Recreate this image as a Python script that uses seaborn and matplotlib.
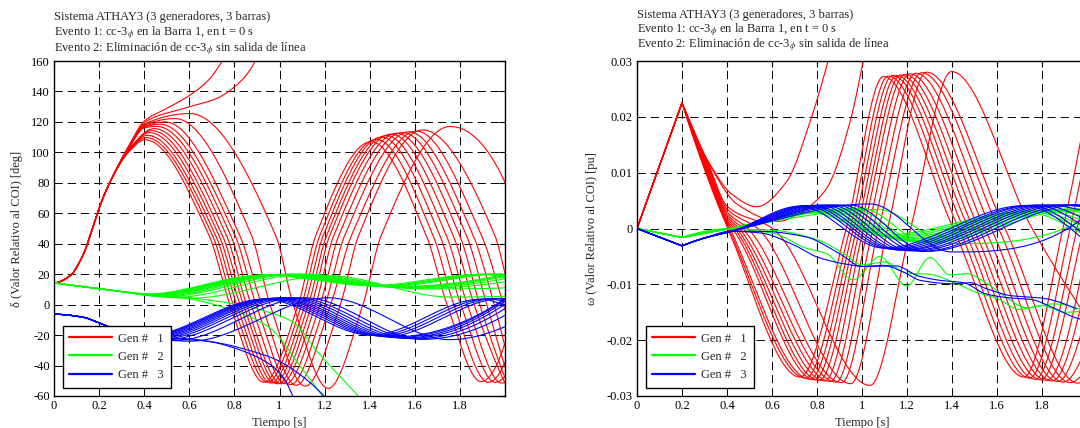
import numpy as np
import pandas as pd
import matplotlib
matplotlib.use("Agg")
import matplotlib.pyplot as plt
import seaborn as sns
from matplotlib.lines import Line2D

nan = np.nan

# ---------------------------------------------------------------------------
# Digitised swing-curve knots (11 stable cases + 2 unstable cases)
# ---------------------------------------------------------------------------
# Gen 1 rotor angle (deg), common fault-on rise
RISE_T = [0.0, 0.07, 0.13, 0.174, 0.204, 0.248]
RISE_D = [14.3, 18.8, 33.0, 51.8, 65.0, 80.4]

d1_033 = [100.0, 100.3, 100.6, 101.0, 101.3, 101.6, 102.0, 102.3, 102.6, 103.0, 103.4]
d1_040 = [nan, nan, nan, nan, nan, nan, 116.0, 116.5, 117.0, 117.8, 118.5]
tp1 = [0.404, 0.408, 0.414, 0.423, 0.433, 0.443, 0.455, 0.470, 0.493, 0.537, 0.603]
v1 = [108.3, 109.7, 111.2, 113.0, 114.3, 115.6, 117.1, 118.5, 120.0, 122.2, 125.5]
c45d = [0.689, 0.704, 0.718, 0.733, 0.748, 0.766, 0.785, 0.804, 0.825, 0.877, 0.984]
c0d = [0.780, 0.795, 0.810, 0.825, 0.840, 0.854, 0.874, 0.896, 0.921, 0.958, 1.061]
tm1 = [0.930, 0.947, 0.962, 0.977, 0.992, 1.007, 1.027, 1.049, 1.074, 1.114, 1.216]
m1 = [-51.0, -51.0, -51.5, -51.5, -52.0, -52.0, -52.0, -52.5, -53.0, -53.5, -55.0]
c0a = [1.083, 1.098, 1.113, 1.128, 1.143, 1.160, 1.180, 1.202, 1.227, 1.270, 1.370]
c45a = [1.160, 1.178, 1.193, 1.208, 1.222, 1.240, 1.262, 1.288, 1.318, 1.350, 1.450]
tp2 = [1.406, 1.430, 1.452, 1.474, 1.496, 1.520, 1.546, 1.574, 1.607, 1.635, 1.756]
v2 = [107.0, 108.5, 110.0, 111.0, 112.0, 112.5, 113.0, 113.5, 114.0, 114.7, 117.0]
c45d2 = [1.652, 1.682, 1.712, 1.741, 1.771, 1.800, 1.830, 1.860, 1.897, 1.956, nan]
c0d2 = [1.743, 1.773, 1.804, 1.833, 1.863, 1.888, 1.919, 1.952, 1.993, nan, nan]
tm2 = [1.893, 1.925, 1.956, 1.985, nan, nan, nan, nan, nan, nan, nan]
m2 = [-50.5, -51.0, -51.0, -51.5, nan, nan, nan, nan, nan, nan, nan]
d1_end = [-25.0, -38.0, -47.0, -51.0, -51.5, -48.0, -41.0, -27.5, -3.5, 20.5, 80.3]

# Gen 1 unstable cases
u1_t = [0.33, 0.40, 0.499, 0.603, 0.692, 0.748, 0.80]
u1_d = [103.8, 120.5, 128.8, 137.6, 148.5, 160.5, 172.0]
u2_t = [0.33, 0.41, 0.573, 0.721, 0.81, 0.869, 0.906, 0.95]
u2_d = [103.6, 120.5, 128.8, 135.4, 144.2, 154.0, 164.0, 176.0]

# Gen 2 rotor angle (deg)
G_T = [0.0, 0.1, 0.2, 0.3]
G_D = [14.3, 12.3, 10.5, 8.6]
g_min1 = [6.8, 6.7, 6.6, 6.4, 6.2, 6.0, 5.8, 5.5, 5.2, 4.8, 4.2]
g_max1 = [19.4, 19.5, 19.6, 19.7, 19.8, 19.8, 19.9, 20.0, 20.0, 20.0, 19.0]
g_min2 = [12.5, 12.3, 12.1, 11.9, 11.7, 11.5, 11.3, 11.0, 10.7, 10.3, 5.0]
g_max2 = [20.0, 20.0, 20.1, 20.1, nan, nan, nan, nan, nan, nan, nan]
g_end = [17.5, 18.8, 19.6, 20.0, 19.9, 19.4, 18.5, 17.0, 15.0, 11.0, 5.5]
ga_t = [0.42, 0.55, 0.77, 0.955, 1.09, 1.2, 1.25]
ga_d = [6.9, 5.0, -2.5, -15.0, -40.0, -62.0, -72.0]
gb_t = [0.42, 0.6, 0.8, 0.93, 1.06, 1.166, 1.273, 1.349, 1.4]
gb_d = [6.9, 4.5, 0.5, -4.0, -11.5, -30.5, -48.0, -60.0, -69.0]

# Gen 3 rotor angle (deg)
B_T = [0.0, 0.13, 0.2, 0.28]
B_D = [-6.3, -8.3, -12.0, -16.5]
b_min1 = [-20.5, -20.8, -21.0, -21.3, -21.6, -22.0, -22.4, -22.8, -23.2, -23.6, -24.0]
b_max1 = [3.6, 3.8, 4.0, 4.2, 4.3, 4.4, 4.5, 4.5, 4.5, 4.5, 4.5]
b_min2 = [-20.0, -20.3, -20.6, -21.0, -21.3, -21.6, -22.0, -22.2, -22.5, -22.8, -23.0]
b_max2 = [3.6, 3.8, 4.0, 4.0, nan, nan, nan, nan, nan, nan, nan]
b_end = [-0.5, 2.0, 3.3, 3.9, 3.9, 3.4, 2.2, 0.3, -2.6, -7.0, -14.5]
ba_t = [0.4, 0.5, 0.6, 0.7, 0.82, 0.95, 1.02, 1.065, 1.09]
ba_d = [-20.5, -21.8, -22.5, -24.5, -29.5, -38.5, -48.5, -62.0, -70.0]
bb_t = [0.4, 0.5, 0.678, 0.91, 0.99, 1.105, 1.218, 1.26]
bb_d = [-20.6, -22.0, -24.0, -32.0, -36.5, -47.5, -63.0, -70.0]

# Speed deviation (pu)
W_FAULT_T = [0.0, 0.2]
w1_fault = [0.0, 0.0225]
w2_fault = [0.0, -0.0016]
w3_fault = [0.0, -0.0031]

w1_032 = [0.0084, 0.0087, 0.0090, 0.0093, 0.0096, 0.0099, 0.0102, 0.0104, 0.0107, 0.0110, 0.0113]
w1_040 = [nan, nan, nan, 0.0010, 0.0014, 0.0018, 0.0022, 0.0026, 0.0030, 0.0035, 0.0040]
wmin1_t = [0.724, 0.750, 0.770, 0.790, 0.810, 0.835, 0.860, 0.885, 0.910, 0.950, 1.036]
wmin1 = [-0.0266, -0.0268, -0.0270, -0.0271, -0.0272, -0.0273, -0.0274, -0.0275, -0.0276, -0.0278, -0.0281]
wmax1_t = [1.095, 1.117, 1.136, 1.154, 1.172, 1.191, 1.213, 1.240, 1.265, 1.287, 1.398]
wmax1 = [0.0272, 0.0273, 0.0274, 0.0274, 0.0275, 0.0276, 0.0277, 0.0278, 0.0279, 0.0280, 0.0281]
wmin2_t = [1.720, 1.745, 1.770, 1.795, 1.820, 1.845, 1.870, 1.895, 1.925, 1.960, nan]
wmin2 = [-0.0266, -0.0268, -0.0270, -0.0271, -0.0272, -0.0273, -0.0274, -0.0275, -0.0276, -0.0277, nan]
w1_end = [0.022, 0.015, 0.0085, 0.0025, -0.003, -0.009, -0.015, -0.021, -0.025, -0.0265, -0.016]

wu1_t = [0.2, 0.32, 0.42, 0.532, 0.665, 0.769, 0.85, 0.9]
wu1 = [0.0225, 0.0118, 0.0062, 0.0039, 0.0084, 0.0191, 0.0301, 0.038]
wu2_t = [0.2, 0.32, 0.45, 0.63, 0.75, 0.843, 0.947, 1.006, 1.04]
wu2 = [0.0225, 0.0116, 0.0042, 0.0013, 0.0035, 0.0072, 0.0191, 0.0301, 0.037]

g_pk1_t = [0.78, 0.80, 0.82, 0.84, 0.86, 0.88, 0.90, 0.93, 0.96, 1.00, 1.07]
gw1 = [0.0028, 0.0029, 0.0030, 0.0031, 0.0032, 0.0033, 0.0034, 0.0035, 0.0035, 0.0036, 0.0034]
gw2 = [-0.0012, -0.0014, -0.0016, -0.0018, -0.0020, -0.0022, -0.0023, -0.0024, -0.0025, -0.0026, -0.0027]
gw3 = [0.0030, 0.0031, 0.0032, 0.0032, 0.0033, 0.0033, 0.0034, 0.0034, 0.0035, 0.0035, nan]
gw_end = [-0.0015, -0.0008, 0.0, 0.0012, 0.0020, 0.0027, 0.0030, 0.0033, 0.0034, 0.0034, 0.0020]

bw1 = [0.0040, 0.0041, 0.0041, 0.0041, 0.0042, 0.0042, 0.0042, 0.0042, 0.0042, 0.0042, 0.0044]
bw2 = [-0.0035, -0.0036, -0.0037, -0.0038, -0.0039, -0.0039, -0.0040, -0.0040, -0.0041, -0.0041, -0.0042]
bw3 = [0.0041, 0.0041, 0.0042, 0.0042, 0.0042, 0.0042, 0.0042, 0.0042, 0.0042, 0.0042, nan]
bw_end = [-0.0025, -0.0015, 0.0, 0.0015, 0.0030, 0.0038, 0.0041, 0.0042, 0.0041, 0.0039, 0.0024]

wga_t = [0.2, 0.4, 0.6, 0.75, 0.843, 0.961, 1.08, 1.198, 1.302, 1.391, 1.465, 1.554, 1.628, 1.732, 1.85, 2.0]
wga = [-0.0016, -0.0001, -0.0008, -0.0035, -0.0045, -0.0092, -0.0050, -0.0103, -0.0052, -0.0083, -0.0081,
       -0.0098, -0.0120, -0.0142, -0.0135, -0.0150]
wgb_t = [0.2, 0.4, 0.6, 0.8, 0.92, 1.0, 1.1, 1.2, 1.3, 1.4, 1.5, 1.6, 1.7, 1.8, 1.9, 2.0]
wgb = [-0.0016, -0.0001, -0.0003, -0.0020, -0.0045, -0.0065, -0.0060, -0.0080, -0.0082, -0.0095, -0.0113,
       -0.0125, -0.0145, -0.0138, -0.0150, -0.0145]
wba_t = [0.2, 0.3, 0.42, 0.55, 0.7, 0.8, 0.917, 1.006, 1.095, 1.184, 1.26, 1.406, 1.48, 1.554, 1.658, 1.806, 1.954]
wba = [-0.0031, -0.0017, -0.0005, -0.0008, -0.0030, -0.0051, -0.0063, -0.0068, -0.0066, -0.0078, -0.0093,
       -0.0099, -0.0097, -0.0108, -0.0120, -0.0125, -0.0144]
wbb_t = [0.2, 0.3, 0.42, 0.55, 0.75, 0.9, 1.0, 1.15, 1.25, 1.35, 1.45, 1.55, 1.65, 1.75, 1.85, 1.95, 2.0]
wbb = [-0.0031, -0.0017, -0.0005, -0.0005, -0.0015, -0.0045, -0.0068, -0.0067, -0.0085, -0.0093, -0.0097,
       -0.0117, -0.0124, -0.0127, -0.0142, -0.0160, -0.0165]

N_STABLE = len(tp1)


# ---------------------------------------------------------------------------
# Shape-preserving cubic trace through the knots
# ---------------------------------------------------------------------------
def _end_slope(h0, h1, d0, d1):
    m = ((2 * h0 + h1) * d0 - h0 * d1) / (h0 + h1)
    if np.sign(m) != np.sign(d0):
        m = 0.0
    elif np.sign(d0) != np.sign(d1) and abs(m) > abs(3 * d0):
        m = 3 * d0
    return m


def smooth(knots):
    k = [(t, v) for t, v in knots if not (np.isnan(t) or np.isnan(v))]
    x = np.array([p[0] for p in k], float)
    y = np.array([p[1] for p in k], float)
    h = np.diff(x)
    d = np.diff(y) / h
    m = np.zeros_like(y)
    if len(x) == 2:
        m[:] = d[0]
    else:
        for i in range(1, len(x) - 1):
            if d[i - 1] * d[i] > 0:
                w1 = 2 * h[i] + h[i - 1]
                w2 = h[i] + 2 * h[i - 1]
                m[i] = (w1 + w2) / (w1 / d[i - 1] + w2 / d[i])
        m[0] = _end_slope(h[0], h[1], d[0], d[1])
        m[-1] = _end_slope(h[-1], h[-2], d[-1], d[-2])
    xs, ys = [], []
    for i in range(len(h)):
        n = max(6, int(h[i] / 0.003))
        s = np.linspace(0.0, 1.0, n, endpoint=False)
        h00 = 2 * s**3 - 3 * s**2 + 1
        h10 = s**3 - 2 * s**2 + s
        h01 = -2 * s**3 + 3 * s**2
        h11 = s**3 - s**2
        xs.append(x[i] + s * h[i])
        ys.append(h00 * y[i] + h10 * h[i] * m[i] + h01 * y[i + 1] + h11 * h[i] * m[i + 1])
    xs.append([x[-1]])
    ys.append([y[-1]])
    return np.concatenate(xs), np.concatenate(ys)


def trace(*pieces):
    xs, ys = [], []
    for j, p in enumerate(pieces):
        x, y = smooth(p)
        if j > 0:
            x, y = x[1:], y[1:]
        xs.append(x)
        ys.append(y)
    return np.concatenate(xs), np.concatenate(ys)


rows = []


def add(panel, gen, case, xy):
    x, y = xy
    rows.append(pd.DataFrame({"panel": panel, "gen": gen, "case": case, "t": x, "v": y}))


def kn(ts, vs):
    return list(zip(ts, vs))


# --- rotor angles ---
for i in range(N_STABLE):
    red = kn(RISE_T, RISE_D) + [(0.33, d1_033[i]), (0.40, d1_040[i]), (tp1[i], v1[i]), (c45d[i], 45.0),
                                (c0d[i], 0.0), (tm1[i], m1[i]), (c0a[i], 0.0), (c45a[i], 45.0),
                                (tp2[i], v2[i]), (c45d2[i], 45.0), (c0d2[i], 0.0), (tm2[i], m2[i]),
                                (2.0, d1_end[i])]
    add("d", "1", i, trace(red))
    grn = kn(G_T, G_D) + [(tp1[i], g_min1[i]), (tm1[i], g_max1[i]), (tp2[i], g_min2[i]),
                          (tm2[i], g_max2[i]), (2.0, g_end[i])]
    add("d", "2", i, trace(grn))
    blu = kn(B_T, B_D) + [(tp1[i], b_min1[i]), (tm1[i], b_max1[i]), (tp2[i], b_min2[i]),
                          (tm2[i], b_max2[i]), (2.0, b_end[i])]
    add("d", "3", i, trace(blu))

add("d", "1", 11, trace(kn(RISE_T, RISE_D) + kn(u1_t, u1_d)))
add("d", "1", 12, trace(kn(RISE_T, RISE_D) + kn(u2_t, u2_d)))
add("d", "2", 11, trace(kn(G_T, G_D) + kn(ga_t, ga_d)))
add("d", "2", 12, trace(kn(G_T, G_D) + kn(gb_t, gb_d)))
add("d", "3", 11, trace(kn(B_T, B_D) + kn(ba_t, ba_d)))
add("d", "3", 12, trace(kn(B_T, B_D) + kn(bb_t, bb_d)))

# --- speed deviations ---
for i in range(N_STABLE):
    red = [(0.2, w1_fault[1]), (0.32, w1_032[i]), (0.40, w1_040[i]), (tp1[i], 0.0),
           (wmin1_t[i], wmin1[i]), (tm1[i], 0.0), (wmax1_t[i], wmax1[i]), (tp2[i], 0.0),
           (wmin2_t[i], wmin2[i]), (tm2[i], 0.0), (2.0, w1_end[i])]
    add("w", "1", i, trace(kn(W_FAULT_T, w1_fault), red))
    grn = [(0.2, w2_fault[1]), (0.40, -0.0001), (g_pk1_t[i], gw1[i]), (wmax1_t[i], gw2[i]),
           (wmin2_t[i], gw3[i]), (2.0, gw_end[i])]
    add("w", "2", i, trace(kn(W_FAULT_T, w2_fault), grn))
    blu = [(0.2, w3_fault[1]), (0.30, -0.0017), (0.42, -0.0005), (wmin1_t[i], bw1[i]),
           (wmax1_t[i], bw2[i]), (wmin2_t[i], bw3[i]), (2.0, bw_end[i])]
    add("w", "3", i, trace(kn(W_FAULT_T, w3_fault), blu))

add("w", "1", 11, trace(kn(W_FAULT_T, w1_fault), kn(wu1_t, wu1)))
add("w", "1", 12, trace(kn(W_FAULT_T, w1_fault), kn(wu2_t, wu2)))
add("w", "2", 11, trace(kn(W_FAULT_T, w2_fault), kn(wga_t, wga)))
add("w", "2", 12, trace(kn(W_FAULT_T, w2_fault), kn(wgb_t, wgb)))
add("w", "3", 11, trace(kn(W_FAULT_T, w3_fault), kn(wba_t, wba)))
add("w", "3", 12, trace(kn(W_FAULT_T, w3_fault), kn(wbb_t, wbb)))

df = pd.concat(rows, ignore_index=True)

# ---------------------------------------------------------------------------
# Figure
# ---------------------------------------------------------------------------
sns.set_style("white")
SERIF = ["Liberation Serif", "DejaVu Serif"]
plt.rcParams["font.family"] = SERIF
plt.rcParams["mathtext.fontset"] = "stix"
plt.rcParams["axes.unicode_minus"] = False

palette = {"1": "#ff0000", "2": "#00ff00", "3": "#0000ff"}
FS = 9

fig = plt.figure(figsize=(10.8, 4.28), dpi=100)
W, H = 1080.0, 428.0
ax_d = fig.add_axes([54 / W, 1 - 396 / H, 451 / W, 335 / H])
ax_w = fig.add_axes([637 / W, 1 - 396 / H, 450 / W, 335 / H])

for ax, key in ((ax_d, "d"), (ax_w, "w")):
    sns.lineplot(data=df[df.panel == key], x="t", y="v", hue="gen", units="case",
                 estimator=None, sort=False, palette=palette, hue_order=["1", "2", "3"],
                 linewidth=0.8, legend=False, ax=ax)

xticks = [0, 0.2, 0.4, 0.6, 0.8, 1.0, 1.2, 1.4, 1.6, 1.8]
xtick_labels = ["0", "0.2", "0.4", "0.6", "0.8", "1", "1.2", "1.4", "1.6", "1.8"]
d_ticks = [-60, -40, -20, 0, 20, 40, 60, 80, 100, 120, 140, 160]
w_ticks = [-0.03, -0.02, -0.01, 0, 0.01, 0.02, 0.03]
w_tick_labels = ["-0.03", "-0.02", "-0.01", "0", "0.01", "0.02", "0.03"]

ax_d.set_xlim(0, 2)
ax_d.set_ylim(-60, 160)
ax_d.set_yticks(d_ticks)
ax_d.set_yticklabels([str(v) for v in d_ticks], fontfamily=SERIF, fontsize=FS)
ax_w.set_xlim(0, 2)
ax_w.set_ylim(-0.03, 0.03)
ax_w.set_yticks(w_ticks)
ax_w.set_yticklabels(w_tick_labels, fontfamily=SERIF, fontsize=FS)

for ax in (ax_d, ax_w):
    ax.set_xticks(xticks)
    ax.set_xticklabels(xtick_labels, fontfamily=SERIF, fontsize=FS)
    ax.grid(True, color="black", linestyle=(0, (8.5, 5.1)), linewidth=0.7)
    ax.tick_params(direction="in", length=4, width=0.8, top=True, right=True,
                   pad=3, colors="black")
    for s in ax.spines.values():
        s.set_color("black")
        s.set_linewidth(1.0)
        s.set_visible(True)
    ax.set_xlabel("Tiempo [s]", fontsize=FS, fontfamily=SERIF)
    ax.xaxis.set_label_coords(0.5, -0.062)

ax_d.set_ylabel("δ (Valor Relativo al COI) [deg]", fontsize=FS, fontfamily=SERIF)
ax_d.yaxis.set_label_coords(-0.069, 0.5)
ax_w.set_ylabel("ω (Valor Relativo al COI) [pu]", fontsize=FS, fontfamily=SERIF)
ax_w.yaxis.set_label_coords(-0.087, 0.5)

header = ["Sistema ATHAY3 (3 generadores, 3 barras)",
          "Evento 1: cc-3$_\\phi$ en la Barra 1, en t = 0 s",
          "Evento 2: Eliminación de cc-3$_\\phi$ sin salida de línea"]
for line, y in zip(header, (17, 33, 49)):
    fig.text(54 / W, 1 - y / H, line, fontsize=FS, ha="left", va="center", fontfamily=SERIF)
for line, y in zip(header, (15, 30, 45)):
    fig.text(637 / W, 1 - y / H, line, fontsize=FS, ha="left", va="center", fontfamily=SERIF)

handles = [Line2D([], [], color=palette[g], linewidth=1.6) for g in ("1", "2", "3")]
labels = ["Gen #   1", "Gen #   2", "Gen #   3"]
for ax in (ax_d, ax_w):
    leg = ax.legend(handles, labels, loc="lower left", bbox_to_anchor=(0.019, 0.024),
                    borderaxespad=0, prop={"family": SERIF, "size": FS}, frameon=True,
                    fancybox=False, edgecolor="black", handlelength=3.4, handletextpad=0.5,
                    labelspacing=0.5, borderpad=0.55)
    leg.get_frame().set_linewidth(1.0)
    leg.get_frame().set_alpha(1.0)

fig.savefig("out.png", dpi=100, facecolor="white")
